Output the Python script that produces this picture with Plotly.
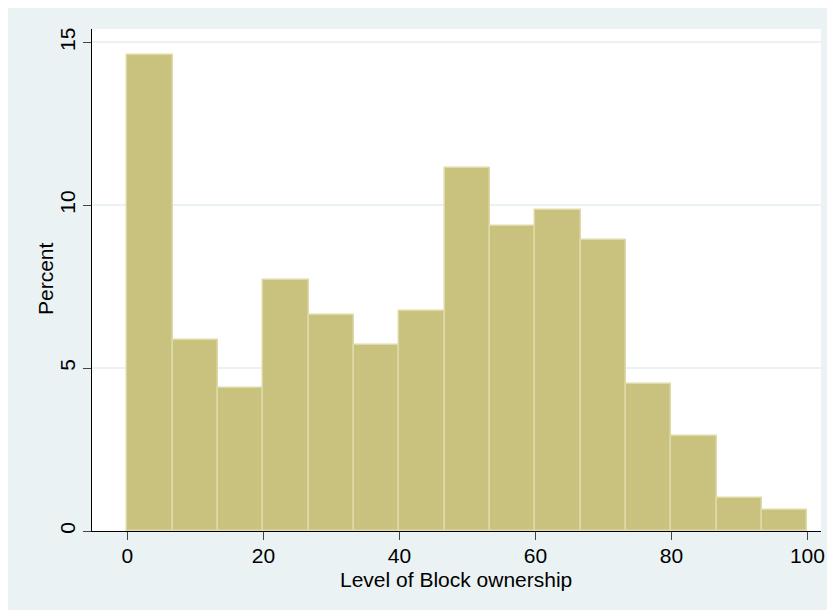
import plotly.graph_objects as go

# Data: histogram of block ownership (percent per bin)
bin_start = 0.0
bin_width = 100.0 / 15
percent = [14.60, 5.86, 4.40, 7.70, 6.62, 5.72, 6.75, 11.14, 9.37, 9.86, 8.92, 4.52, 2.92, 1.01, 0.63]
x_ticks = [0, 20, 40, 60, 80, 100]
y_ticks = [0, 5, 10, 15]

centers = [bin_start + bin_width * (i + 0.5) for i in range(len(percent))]

W, H = 827, 602
ML, MR, MT, MB = 84, 14, 21, 79
PW, PH = W - ML - MR, H - MT - MB

def px_x(p):
    return (p - ML) / PW

def px_y(p):
    return (H - MB - p) / PH

BG = "#EAF2F3"
FONT = "Liberation Sans, Arial, sans-serif"

fig = go.Figure()
fig.add_trace(go.Bar(
    x=centers, y=percent, width=bin_width,
    marker=dict(color="rgb(201,194,126)", line=dict(color="rgb(222,218,168)", width=1.5)),
    hoverinfo="skip",
))

fig.update_layout(
    width=W, height=H,
    margin=dict(l=ML, r=MR, t=MT, b=MB, autoexpand=False),
    paper_bgcolor=BG, plot_bgcolor="white",
    showlegend=False, bargap=0,
    font=dict(family=FONT, size=21, color="black"),
    xaxis=dict(
        range=[-5.21, 102.0], tickvals=x_ticks, ticks="outside", ticklen=8,
        tickcolor="#444", tickwidth=1, showgrid=False, zeroline=False,
        showline=True, linecolor="black", linewidth=1,
        tickfont=dict(size=21), ticklabelstandoff=-2, automargin=False,
    ),
    yaxis=dict(
        range=[0, 15.41], tickvals=y_ticks, ticks="outside", ticklen=8,
        tickcolor="#444", tickwidth=1, showgrid=True, gridcolor=BG, gridwidth=1.5,
        zeroline=False, showline=True, linecolor="black", linewidth=1,
        tickangle=-90, tickfont=dict(size=21), automargin=False,
    ),
    annotations=[
        dict(text="Level of Block ownership", xref="paper", yref="paper",
             x=px_x(455.5 - 8), y=px_y(579 - 8), xanchor="center", yanchor="middle",
             showarrow=False, font=dict(size=21)),
        dict(text="Percent", xref="paper", yref="paper", textangle=-90,
             x=px_x(45 - 8), y=px_y(279 - 8), xanchor="center", yanchor="middle",
             showarrow=False, font=dict(size=21)),
    ],
)

fig.write_html("out.html")
